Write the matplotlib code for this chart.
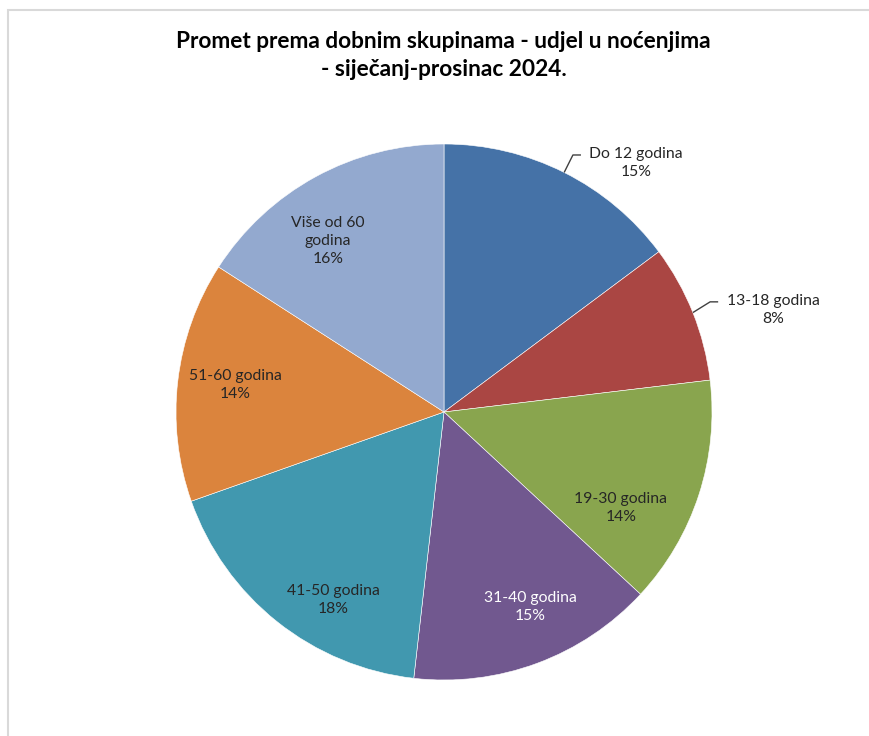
import numpy as np
import matplotlib.pyplot as plt
from matplotlib.patches import Rectangle

# Udjel u noćenjima po dobnim skupinama (procjena iz grafikona)
skupine = ['Do 12 godina', '13-18 godina', '19-30 godina', '31-40 godina',
           '41-50 godina', '51-60 godina', 'Više od 60\ngodina']
udjeli = [14.8, 8.3, 13.8, 14.9, 17.8, 14.5, 15.9]
postoci = ['15%', '8%', '14%', '15%', '18%', '14%', '16%']
boje = ['#4572A7', '#AA4643', '#89A54E', '#71588F', '#4198AF', '#DB843D', '#93A9CF']

# Položaji natpisa (u koordinatama osi) i boje teksta
pozicije = [(0.716, 0.929), (1.228, 0.381), (0.660, -0.358), (0.321, -0.728),
            (-0.414, -0.701), (-0.780, 0.101), (-0.433, 0.638)]
boje_teksta = ['#262626', '#262626', '#262626', 'white', '#262626', '#262626', '#262626']
vodilice = [True, True, False, False, False, False, False]

fig = plt.figure(figsize=(8.7, 7.36), dpi=100)
fig.patch.set_facecolor('white')

# svijetlosivi okvir
fig.patches.append(Rectangle((8 / 870, -0.01), 1.0, 1 - 9.5 / 736 + 0.01, transform=fig.transFigure,
                             fill=False, edgecolor='#d9d9d9', linewidth=1.5))

ax = fig.add_axes([176 / 870, 56 / 736, 536 / 870, 536 / 736])
wedges, _ = ax.pie(udjeli, colors=boje, startangle=90, counterclock=False, radius=1,
                   wedgeprops=dict(edgecolor='white', linewidth=0.4))
ax.set_xlim(-1, 1)
ax.set_ylim(-1, 1)
ax.set_aspect('equal')
ax.axis('off')

for w, naziv, p, (x, y), c, v in zip(wedges, skupine, postoci, pozicije, boje_teksta, vodilice):
    ax.text(x, y, naziv + '\n' + p, ha='center', va='center', fontsize=11.3,
            family='Lato', color=c, linespacing=1.35, clip_on=False)
    if v:
        kut = np.deg2rad((w.theta1 + w.theta2) / 2)
        x0, y0 = np.cos(kut), np.sin(kut)
        lijevo = x - 0.205 if len(naziv) > 10 else x - 0.17
        ax.plot([x0, lijevo - 0.03, lijevo], [y0, y + 0.03, y + 0.03],
                color='#404040', linewidth=1, clip_on=False, solid_capstyle='butt')

fig.text(0.51, 0.925, 'Promet prema dobnim skupinama - udjel u noćenjima\n- siječanj-prosinac 2024.',
         ha='center', va='center', fontsize=16.3, fontweight='bold', family='Lato',
         color='black', linespacing=1.4)

fig.savefig('out.png', dpi=100, facecolor='white')
